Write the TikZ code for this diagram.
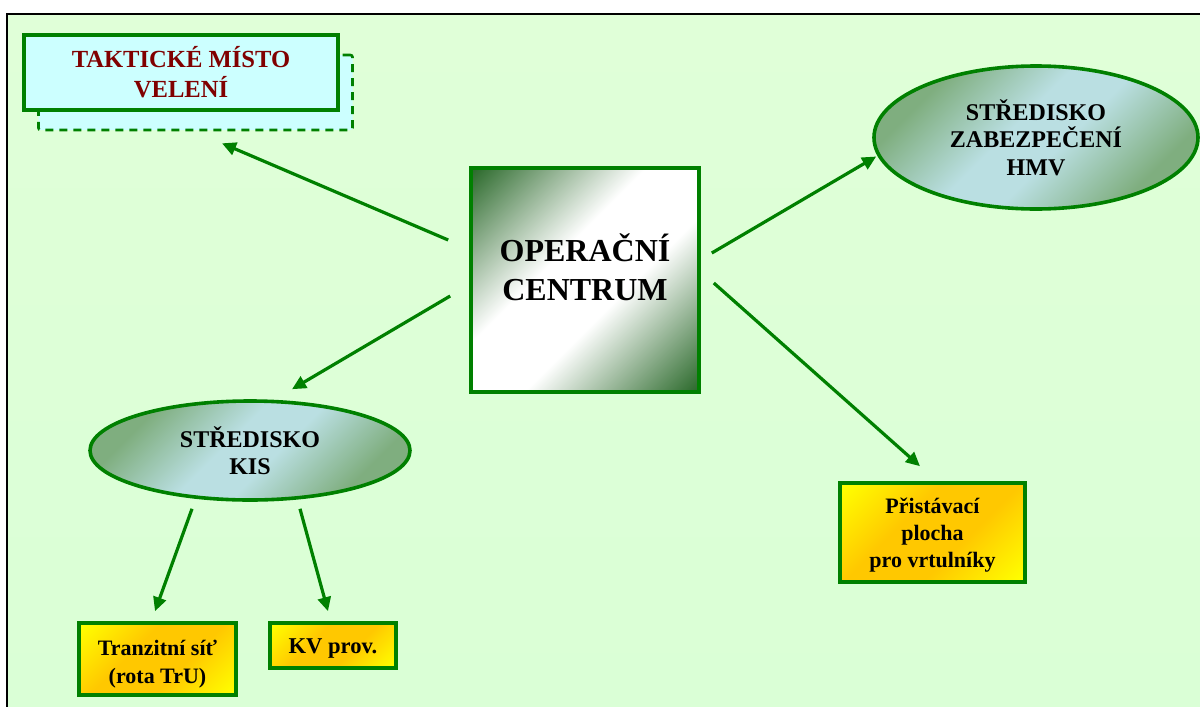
\documentclass[tikz,border=0pt]{standalone}
\usepackage{fontspec}
\setmainfont{Liberation Serif}
\usetikzlibrary{arrows.meta,shapes.geometric}
\definecolor{lgreen}{HTML}{008000}
\definecolor{dred}{HTML}{800000}
\definecolor{bgtop}{HTML}{E0FFD8}
\definecolor{bgmid}{HTML}{CCFFCC}
\definecolor{bgbot}{HTML}{DAFFD6}
\definecolor{cyanbox}{HTML}{CCFFFF}
\definecolor{dkgreen}{HTML}{2C6A2C}
\definecolor{elgreen}{HTML}{7FAE7F}
\definecolor{elblue}{HTML}{BADFE2}
\definecolor{yel}{HTML}{FFFF00}
\definecolor{orn}{HTML}{FFC800}
\pgfdeclareverticalshading{ocshade}{100bp}{color(0bp)=(dkgreen); color(15bp)=(dkgreen); color(42bp)=(white); color(58bp)=(white); color(85bp)=(dkgreen); color(100bp)=(dkgreen)}
\pgfdeclareverticalshading{elshade}{100bp}{color(0bp)=(elgreen); color(27bp)=(elgreen); color(45bp)=(elblue); color(55bp)=(elblue); color(73bp)=(elgreen); color(100bp)=(elgreen)}
\pgfdeclareverticalshading{yshade}{100bp}{color(0bp)=(yel); color(16bp)=(yel); color(40bp)=(orn); color(60bp)=(orn); color(84bp)=(yel); color(100bp)=(yel)}
\tikzset{
  conn/.style={draw=lgreen, line width=1.6pt, -{Triangle[length=7pt,width=6.5pt]}},
  tmvbox/.style={rectangle, draw=lgreen, line width=1.8pt, fill=cyanbox, inner sep=0pt,
     minimum width=157pt, minimum height=37.5pt, align=center, text=dred,
     font=\bfseries\fontsize{12.3}{15}\selectfont},
  ocbox/.style={rectangle, draw=lgreen, line width=1.8pt, inner sep=0pt,
     shading=ocshade, shading angle=45,
     minimum width=114pt, minimum height=112pt},
  octext/.style={align=center, inner sep=0pt, font=\bfseries\fontsize{16}{19.5}\selectfont},
  ellbox/.style={ellipse, draw=lgreen, line width=1.8pt, inner sep=0pt,
     shading=elshade, shading angle=45,
     align=center, font=\bfseries\fontsize{12}{13.8}\selectfont},
  yelbox/.style={rectangle, draw=lgreen, line width=1.8pt, inner sep=0pt,
     shading=yshade, shading angle=45},
  yeltext/.style={align=center, inner sep=0pt, font=\bfseries\fontsize{11}{14}\selectfont}
}
\begin{document}
\begin{tikzpicture}[x=0.5pt,y=-0.5pt]
\useasboundingbox (0,0) rectangle (1200,707);
\fill[white] (0,0) rectangle (1200,707);
\shade[top color=bgtop, middle color=bgmid, bottom color=bgbot] (7,14) rectangle (1204,711);
\draw[black, line width=0.6pt] (7,712) -- (7,14) -- (1205,14);
% nodes
\node[tmvbox, line width=1.3pt, dash pattern=on 4pt off 3pt, rounded corners=1pt] (tmvs) at (195.5,92.5) {};
\node[tmvbox] (tmv) at (181,72.5) {TAKTICKÉ MÍSTO\\VELENÍ};
\node[ocbox, label={[octext, yshift=6.5pt]center:OPERAČNÍ\\CENTRUM}] (oc) at (585,280) {};
\node[ellbox, minimum width=162pt, minimum height=71.5pt] (zh) at (1036,137.5) {STŘEDISKO\\ZABEZPEČENÍ\\HMV};
\node[ellbox, minimum width=160pt, minimum height=49.5pt] (kis) at (250,450.5) {STŘEDISKO\\KIS};
\node[yelbox, minimum width=78.5pt, minimum height=36pt,
      label={[yeltext, yshift=-2.5pt]center:Tranzitní síť\\(rota TrU)}] (ts) at (157.5,659) {};
\node[yelbox, minimum width=63pt, minimum height=22.5pt,
      label={[yeltext, font=\bfseries\fontsize{11.3}{14}\selectfont, yshift=-1.5pt]center:KV prov.}] (kv) at (333,645.5) {};
\node[yelbox, minimum width=92.5pt, minimum height=49.5pt,
      label={[yeltext, font=\bfseries\fontsize{11}{13.5}\selectfont, yshift=-1.5pt]center:Přistávací\\plocha\\pro vrtulníky}] (pp) at (932.5,532.5) {};
% connectors
\draw[conn] ([shift={(-21,-40)}]oc.west) -- ([shift={(26.5,12)}]tmvs.south);
\draw[conn] ([shift={(11,-27)}]oc.east) -- ([shift={(4,19)}]zh.west);
\draw[conn] ([shift={(-19,16)}]oc.west) -- ([shift={(42,-10)}]kis.north);
\draw[conn] ([shift={(13,3)}]oc.east) -- ([shift={(-12.5,-15)}]pp.north);
\draw[conn] ([shift={(-58,7)}]kis.south) -- ([shift={(-2.5,-10)}]ts.north);
\draw[conn] ([shift={(50,7)}]kis.south) -- ([shift={(-5,-10)}]kv.north);
\end{tikzpicture}
\end{document}
